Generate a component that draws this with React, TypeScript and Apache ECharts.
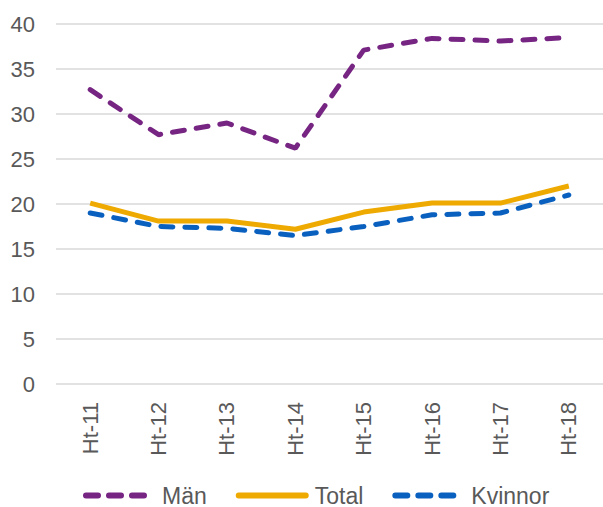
import React, { useEffect, useRef } from "react";
import * as echarts from "echarts";

const categories = ["Ht-11", "Ht-12", "Ht-13", "Ht-14", "Ht-15", "Ht-16", "Ht-17", "Ht-18"];
const man = [32.7, 27.7, 29.0, 26.2, 37.1, 38.4, 38.1, 38.5];
const total = [20.1, 18.1, 18.1, 17.2, 19.1, 20.1, 20.1, 22.0];
const kvinnor = [19.0, 17.5, 17.3, 16.5, 17.5, 18.8, 19.0, 21.0];

const dashIcon =
  "path://M3,0h12a3,3 0 0 1 0,6h-12a3,3 0 0 1 0,-6z M26,0h12a3,3 0 0 1 0,6h-12a3,3 0 0 1 0,-6z M49,0h12a3,3 0 0 1 0,6h-12a3,3 0 0 1 0,-6z M74,0L74,6";
const solidIcon = "path://M3,0h67a3,3 0 0 1 0,6h-67a3,3 0 0 1 0,-6z M74,0L74,6";

export default function App() {
  const ref = useRef<HTMLDivElement>(null);
  useEffect(() => {
    document.body.style.margin = "0";
    const chart = echarts.init(ref.current!, null, { renderer: "svg" });
    const font = "'Liberation Sans', Arial, sans-serif";
    chart.setOption({
      animation: false,
      textStyle: { fontFamily: font },
      grid: { left: 56, right: -3, top: 24, bottom: 123 },
      legend: {
        top: 484,
        left: 83,
        padding: 0,
        itemWidth: 74,
        itemHeight: 6,
        itemGap: 29,
        itemStyle: { borderWidth: 0 },
        textStyle: { fontSize: 23, color: "#595959", fontFamily: font },
        data: [
          { name: "Män", icon: dashIcon },
          { name: "Total", icon: solidIcon },
          { name: "Kvinnor", icon: dashIcon },
        ],
      },
      xAxis: {
        type: "category",
        data: categories,
        axisLine: { show: false },
        axisTick: { show: false },
        axisLabel: { rotate: 90, fontSize: 22, color: "#595959", margin: 18, fontFamily: font },
      },
      yAxis: {
        type: "value",
        min: 0,
        max: 40,
        interval: 5,
        axisLine: { show: false },
        axisTick: { show: false },
        axisLabel: { fontSize: 22, color: "#595959", margin: 21, fontFamily: font },
        splitLine: { lineStyle: { color: "#d9d9d9", width: 1.5 } },
      },
      series: [
        {
          name: "Män",
          type: "line",
          data: man,
          symbol: "none",
          itemStyle: { color: "#772583" },
          lineStyle: { color: "#772583", width: 5, type: [12, 12], cap: "round" },
        },
        {
          name: "Total",
          type: "line",
          data: total,
          symbol: "none",
          itemStyle: { color: "#EEAA00" },
          lineStyle: { color: "#EEAA00", width: 5 },
        },
        {
          name: "Kvinnor",
          type: "line",
          data: kvinnor,
          symbol: "none",
          itemStyle: { color: "#0A60BF" },
          lineStyle: { color: "#0A60BF", width: 5, type: [12, 12], cap: "round" },
        },
      ],
    });
    return () => chart.dispose();
  }, []);
  return <div ref={ref} style={{ position: "absolute", left: 0, top: 0, width: 603, height: 507 }} />;
}
